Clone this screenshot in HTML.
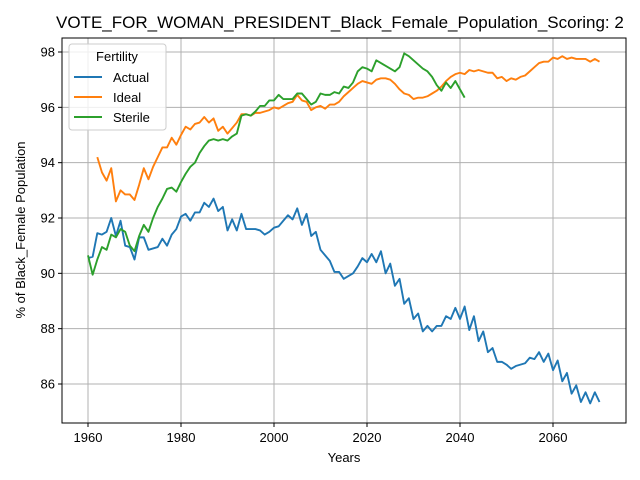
<!DOCTYPE html>
<html><head><meta charset="utf-8"><style>
body{margin:0;background:#fff;}
svg{display:block;font-family:"Liberation Sans","DejaVu Sans",sans-serif;}
</style></head><body>
<svg id="chart" width="640" height="480" viewBox="0 0 640 480" xmlns="http://www.w3.org/2000/svg">
<rect x="0" y="0" width="640" height="480" fill="#fff"/>
<text x="56" y="28" font-size="17" fill="#000">VOTE_FOR_WOMAN_PRESIDENT_Black_Female_Population_Scoring: 2</text>
<g id="grid"></g>
<g id="series"></g>
<rect x="62" y="38" width="564" height="385" fill="none" stroke="#000" stroke-width="1"/>
<g id="ticks"></g>
<text x="344" y="462" font-size="13" text-anchor="middle">Years</text>
<text transform="translate(25,230) rotate(-90)" font-size="13" text-anchor="middle">% of Black_Female Population</text>
<g>
<rect x="69" y="44" width="97" height="86" rx="3" fill="#fff" fill-opacity="0.8" stroke="#ccc"/>
<text x="117" y="61" font-size="13" text-anchor="middle">Fertility</text>
<g><line x1="74" y1="77" x2="102" y2="77" stroke="#1f77b4" stroke-width="2"/><text x="113" y="82" font-size="13">Actual</text></g>
<g><line x1="74" y1="97" x2="102" y2="97" stroke="#ff7f0e" stroke-width="2"/><text x="113" y="102" font-size="13">Ideal</text></g>
<g><line x1="74" y1="117" x2="102" y2="117" stroke="#2ca02c" stroke-width="2"/><text x="113" y="122" font-size="13">Sterile</text></g>
</g>
</svg>
<script>
const xTicks=[1960,1980,2000,2020,2040,2060];
const yTicks=[86,88,90,92,94,96,98];
const actualStart=1960;
const actual=[90.55,90.6,91.45,91.4,91.5,92.0,91.35,91.9,91.0,90.95,90.5,91.3,91.3,90.85,90.9,90.95,91.25,91.0,91.4,91.6,92.05,92.15,91.9,92.2,92.2,92.55,92.4,92.7,92.25,92.4,91.55,91.95,91.55,92.15,91.6,91.6,91.6,91.55,91.4,91.5,91.65,91.7,91.9,92.1,91.95,92.35,91.75,92.15,91.35,91.5,90.85,90.65,90.45,90.05,90.05,89.8,89.9,90.0,90.25,90.55,90.4,90.7,90.4,90.8,90.0,90.35,89.55,89.8,88.9,89.1,88.35,88.55,87.9,88.1,87.9,88.1,88.1,88.45,88.35,88.75,88.35,88.8,87.95,88.45,87.55,87.9,87.15,87.3,86.8,86.8,86.7,86.55,86.65,86.7,86.75,86.95,86.9,87.15,86.8,87.1,86.5,86.85,86.1,86.4,85.65,85.95,85.35,85.7,85.3,85.7,85.35];
const idealStart=1962;
const ideal=[94.2,93.65,93.35,93.8,92.6,93.0,92.85,92.85,92.65,93.2,93.8,93.4,93.85,94.2,94.55,94.55,94.9,94.65,95.0,95.3,95.2,95.4,95.45,95.65,95.45,95.6,95.15,95.3,95.05,95.25,95.45,95.75,95.75,95.7,95.8,95.8,95.85,95.9,96.0,95.95,96.05,96.15,96.2,96.45,96.25,96.2,95.9,96.0,96.05,95.95,96.1,96.1,96.2,96.4,96.55,96.7,96.85,96.95,96.9,96.85,97.0,97.05,97.05,97.0,96.85,96.65,96.5,96.45,96.3,96.35,96.35,96.4,96.5,96.6,96.75,96.95,97.1,97.2,97.25,97.2,97.35,97.3,97.35,97.3,97.25,97.25,97.05,97.1,96.95,97.05,97.0,97.1,97.15,97.3,97.45,97.6,97.65,97.65,97.8,97.75,97.85,97.75,97.8,97.75,97.75,97.75,97.65,97.75,97.65];
const sterileStart=1960;
const sterile=[90.65,89.95,90.5,90.95,90.85,91.4,91.3,91.6,91.5,91.0,90.8,91.35,91.75,91.5,92.0,92.4,92.7,93.05,93.1,92.95,93.3,93.6,93.85,94.0,94.35,94.6,94.8,94.85,94.8,94.85,94.8,94.95,95.05,95.7,95.75,95.7,95.85,96.05,96.05,96.25,96.25,96.45,96.3,96.3,96.3,96.5,96.5,96.3,96.1,96.2,96.5,96.45,96.45,96.55,96.5,96.75,96.7,96.9,97.3,97.45,97.4,97.3,97.7,97.6,97.5,97.4,97.3,97.45,97.95,97.85,97.7,97.55,97.4,97.3,97.1,96.8,96.6,96.9,96.7,96.95,96.65,96.35];

const NS="http://www.w3.org/2000/svg";
const X=v=>88+(v-1960)*(465/100);
const Y=v=>52+(98-v)*(332/12);
const grid=document.getElementById('grid'),ticks=document.getElementById('ticks'),ser=document.getElementById('series');
function mk(tag,attrs,parent){const e=document.createElementNS(NS,tag);for(const k in attrs)e.setAttribute(k,attrs[k]);parent.appendChild(e);return e;}
xTicks.forEach(t=>{
 const g=mk('line',{x1:X(t),x2:X(t),y1:38,y2:423,stroke:'#b0b0b0','stroke-width':1},grid);
 
 
 const tk=mk('line',{x1:X(t),x2:X(t),y1:423,y2:427,stroke:'#000'},ticks);
 
 
 const tx=mk('text',{x:X(t),y:442,'font-size':13,'text-anchor':'middle'},ticks);
 tx.textContent=t;
 
 
});
yTicks.forEach(t=>{
 const g=mk('line',{x1:62,x2:626,y1:Y(t),y2:Y(t),stroke:'#b0b0b0','stroke-width':1},grid);
 
 
 const tk=mk('line',{x1:58,x2:62,y1:Y(t),y2:Y(t),stroke:'#000'},ticks);
 
 
 const tx=mk('text',{x:55,y:Y(t)+4.5,'font-size':13,'text-anchor':'end'},ticks);
 tx.textContent=t;
 
 
});
function line(data,start,color,name){
 const pts=data.map((v,i)=>X(start+i).toFixed(2)+','+Y(v).toFixed(2)).join(' ');
 const p=mk('polyline',{points:pts,fill:'none',stroke:color,'stroke-width':1.9,'stroke-linejoin':'round'},ser);
 
 
}
line(actual,actualStart,'#1f77b4','actual-line');
line(ideal,idealStart,'#ff7f0e','ideal-line');
line(sterile,sterileStart,'#2ca02c','sterile-line');
</script>
</body></html>
